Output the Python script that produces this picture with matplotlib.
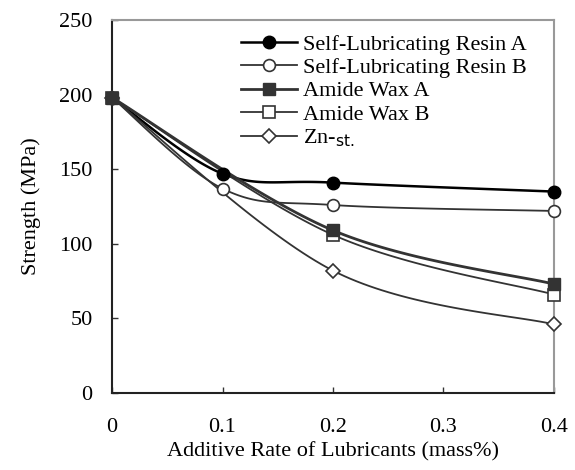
import numpy as np
import matplotlib
matplotlib.use("Agg")
import matplotlib.pyplot as plt
from matplotlib.lines import Line2D

plt.rcParams['font.family'] = ['Liberation Serif', 'DejaVu Serif']
plt.rcParams['mathtext.fontset'] = 'dejavusans'

x_ticks = [0, 0.1, 0.2, 0.3, 0.4]
y_ticks = [0, 50, 100, 150, 200, 250]

labels = ["Self-Lubricating Resin A", "Self-Lubricating Resin B",
          "Amide Wax A", "Amide Wax B", "Zn-$_{\\mathsf{st.}}$"]

resin_a_x = [0, 0.1, 0.2, 0.4]
resin_a_y = [198, 147, 141, 135]
resin_b_x = [0, 0.1, 0.2, 0.4]
resin_b_y = [198, 137, 126, 122]
amide_a_x = [0, 0.2, 0.4]
amide_a_y = [198, 109, 73]
amide_b_x = [0, 0.2, 0.4]
amide_b_y = [198, 106, 66]
znst_x = [0, 0.2, 0.4]
znst_y = [198, 82, 46]

XMAX, YMAX = 0.4, 250
W, H = 442.0, 373.0


def smooth(xs, ys, n=40):
    # Excel-style smoothed line (Bezier with 1/6 tangent) in screen-like units
    P = np.column_stack([np.array(xs) / XMAX * W, np.array(ys) / YMAX * H])
    out = [P[0]]
    for i in range(len(P) - 1):
        p0 = P[i - 1] if i > 0 else P[i]
        p1, p2 = P[i], P[i + 1]
        p3 = P[i + 2] if i + 2 < len(P) else P[i + 1]
        c1 = p1 + (p2 - p0) / 6.0
        c2 = p2 - (p3 - p1) / 6.0
        t = np.linspace(0, 1, n)[1:, None]
        seg = ((1 - t) ** 3) * p1 + 3 * ((1 - t) ** 2) * t * c1 + 3 * (1 - t) * t ** 2 * c2 + t ** 3 * p2
        out.extend(seg)
    out = np.array(out)
    return out[:, 0] / W * XMAX, out[:, 1] / H * YMAX


fig = plt.figure(figsize=(5.75, 4.7), dpi=100)
ax = fig.add_axes([112 / 575, 77 / 470, 442 / 575, 373 / 470])

series = [
    (resin_a_x, resin_a_y, dict(color='black', lw=1.8), dict(marker='o', ms=9, mfc='black', mec='black'), 3),
    (resin_b_x, resin_b_y, dict(color='#333333', lw=1.3), dict(marker='o', ms=8.5, mfc='white', mec='#333333', mew=1.2), 4),
    (amide_a_x, amide_a_y, dict(color='#333333', lw=2.0), dict(marker='s', ms=9, mfc='#333333', mec='#333333'), 6),
    (amide_b_x, amide_b_y, dict(color='#333333', lw=1.3), dict(marker='s', ms=8, mfc='white', mec='#333333', mew=1.2), 5),
    (znst_x, znst_y, dict(color='#333333', lw=1.3), dict(marker='D', ms=7, mfc='white', mec='#333333', mew=1.2), 4.5),
]

handles = []
for (xs, ys, lkw, mkw, z) in series:
    sx, sy = smooth(xs, ys)
    ax.plot(sx, sy, zorder=2, **lkw)
    ax.plot(xs, ys, ls='none', zorder=z, clip_on=False, **mkw)
    handles.append(Line2D([], [], **lkw, **mkw))

ax.set_xlim(0, 0.4)
ax.set_ylim(0, 250)
ax.set_xticks(x_ticks)
ax.set_xticklabels(['0', '0.1', '0.2', '0.3', '0.4'])
ax.set_yticks(y_ticks)
ax.tick_params(axis='both', direction='in', labelsize=16, length=4, width=1,
               color='#333333')
ax.tick_params(axis='x', pad=18)
ax.tick_params(axis='y', pad=14)
for s in ['left', 'bottom']:
    ax.spines[s].set_color('#222222')
    ax.spines[s].set_linewidth(1.5)
for s in ['top', 'right']:
    ax.spines[s].set_color('#999999')
    ax.spines[s].set_linewidth(1.5)

ax.set_xlabel('Additive Rate of Lubricants (mass%)', fontsize=16, labelpad=4)
ax.set_ylabel('Strength (MPa)', fontsize=16, labelpad=13)

leg = ax.legend(handles, labels, loc='upper left', bbox_to_anchor=(0.262, 0.997),
                frameon=False, fontsize=16, handlelength=2.5, handletextpad=0.3,
                labelspacing=0.12, borderaxespad=0.2)

fig.savefig('out.png', dpi=100)
